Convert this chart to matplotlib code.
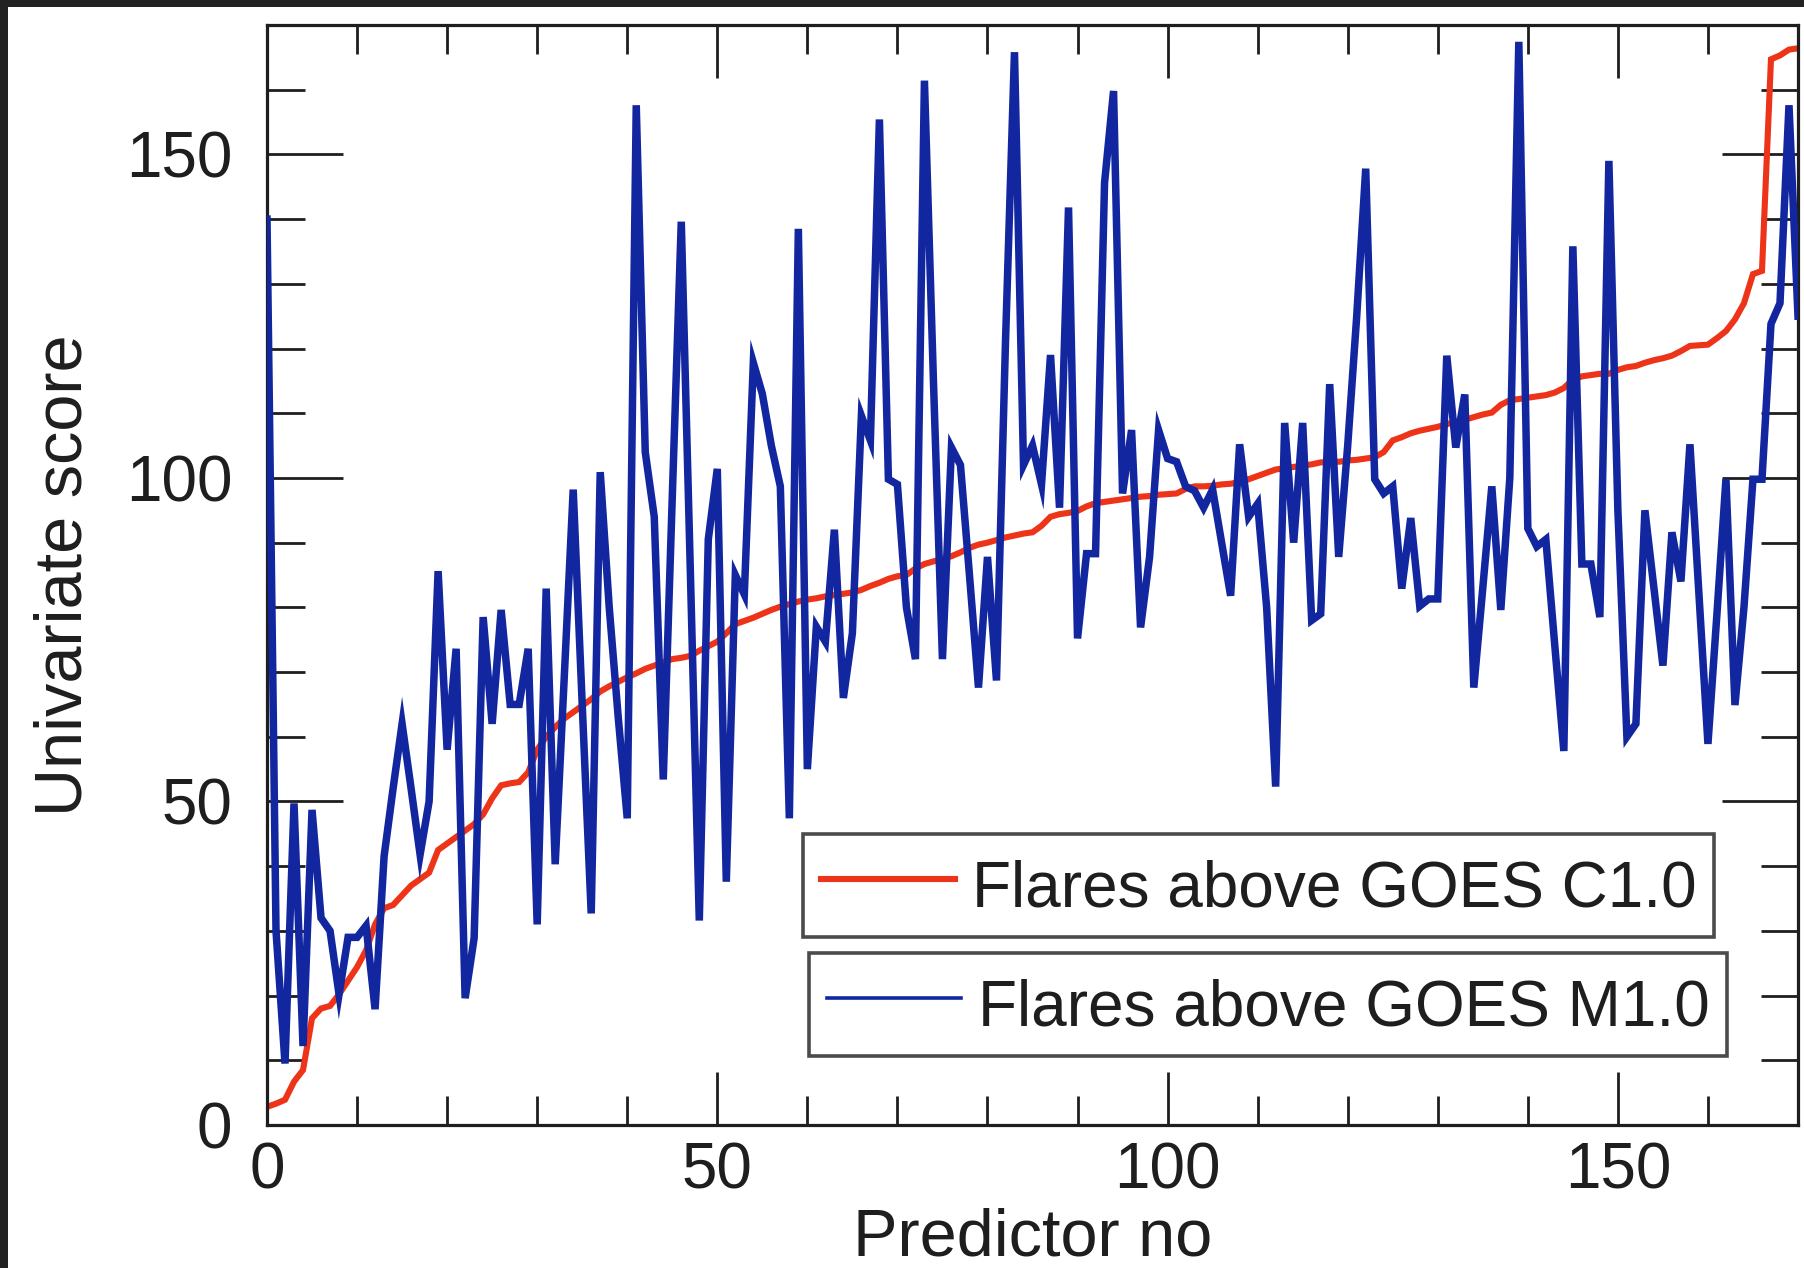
import matplotlib
matplotlib.use("Agg")
import matplotlib.pyplot as plt
from matplotlib.patches import Rectangle
from matplotlib.lines import Line2D
from matplotlib.ticker import MultipleLocator

plt.rcParams['font.family'] = ['Liberation Sans', 'DejaVu Sans']

# ---- data ----
predictor_no = list(range(171))

score_c1 = [
    2.8, 3.3, 3.9, 6.7, 8.5, 16.5, 18.0, 18.4, 20.2, 22.3,
    24.4, 27.0, 31.0, 33.5, 34.0, 35.5, 37.0, 38.0, 39.0, 42.5,
    43.5, 44.5, 45.5, 46.5, 48.0, 50.5, 52.5, 52.8, 53.0, 54.5,
    58.0, 60.0, 61.5, 62.8, 63.8, 64.8, 65.8, 67.0, 67.8, 68.5,
    69.2, 69.8, 70.5, 71.0, 71.5, 72.0, 72.2, 72.5, 73.3, 74.0,
    74.7, 76.0, 77.4, 77.9, 78.4, 79.0, 79.6, 80.1, 80.5, 80.9,
    81.2, 81.4, 81.7, 81.9, 82.1, 82.3, 82.7, 83.3, 83.8, 84.4,
    84.8, 85.0, 86.0, 86.7, 87.1, 87.5, 87.9, 88.5, 89.2, 89.7,
    90.0, 90.4, 90.8, 91.1, 91.4, 91.6, 92.6, 94.0, 94.4, 94.6,
    94.9, 95.6, 96.1, 96.3, 96.5, 96.7, 96.9, 97.1, 97.2, 97.4,
    97.5, 97.6, 98.3, 98.7, 98.7, 98.8, 99.0, 99.1, 99.4, 99.8,
    100.3, 100.8, 101.3, 101.5, 101.7, 101.9, 102.1, 102.4, 102.5, 102.5,
    102.7, 102.8, 103.0, 103.2, 104.0, 105.8, 106.3, 106.9, 107.3, 107.6,
    107.9, 108.3, 108.7, 109.0, 109.4, 109.8, 110.1, 111.3, 112.0, 112.2,
    112.4, 112.6, 112.8, 113.2, 113.9, 115.2, 115.7, 115.9, 116.1, 116.1,
    116.7, 117.1, 117.3, 117.8, 118.2, 118.5, 118.9, 119.6, 120.4, 120.5,
    120.6, 121.6, 122.7, 124.5, 127.0, 131.5, 132.0, 164.7, 165.3, 166.2,
    166.4,
]

score_m1 = [
    140.0, 30.0, 9.5, 49.7, 12.2, 48.7, 32.0, 30.0, 20.2, 29.0,
    29.0, 30.8, 17.9, 41.5, 52.0, 62.0, 52.0, 41.8, 50.0, 85.6,
    58.0, 73.6, 19.6, 28.9, 78.5, 62.0, 79.6, 65.0, 65.0, 73.6,
    31.0, 82.9, 40.3, 69.0, 98.2, 65.0, 32.7, 100.9, 80.0, 63.0,
    47.4, 157.6, 104.0, 94.0, 53.4, 97.0, 139.6, 86.0, 31.6, 90.5,
    101.4, 37.6, 85.0, 82.0, 117.8, 113.0, 105.0, 98.7, 47.4, 138.5,
    55.0, 77.0, 74.7, 92.0, 66.0, 76.0, 109.6, 105.8, 155.4, 99.8,
    99.0, 80.0, 72.0, 161.4, 115.0, 72.0, 104.7, 102.0, 85.0, 67.6,
    87.8, 68.7, 121.0, 165.8, 102.0, 105.0, 99.0, 119.0, 95.4, 141.8,
    75.2, 88.3, 88.3, 145.6, 159.8, 97.6, 107.4, 76.9, 87.8, 107.4,
    103.0, 102.5, 98.7, 98.0, 95.4, 98.2, 90.0, 81.8, 105.2, 94.0,
    96.0, 80.0, 52.3, 108.5, 90.0, 108.5, 78.0, 79.0, 114.5, 87.8,
    105.0, 125.0, 147.8, 99.8, 97.6, 98.7, 82.9, 93.8, 80.2, 81.3,
    81.3, 118.9, 104.7, 112.9, 67.6, 83.0, 98.7, 79.6, 100.0, 167.4,
    92.2, 89.4, 90.5, 74.0, 57.8, 135.8, 86.7, 86.7, 78.5, 149.0,
    95.0, 60.0, 62.0, 95.0, 83.0, 71.0, 91.6, 84.0, 105.2, 82.0,
    58.9, 79.0, 99.8, 64.9, 80.0, 99.8, 99.8, 123.8, 127.0, 157.6,
    125.0,
]

label_c1 = "Flares above GOES C1.0"
label_m1 = "Flares above GOES M1.0"
x_label = "Predictor no"
y_label = "Univariate score"

RED = "#ee3418"
BLUE = "#1226a0"
INK = "#1e1e1e"

W, H = 1804, 1268
fig = plt.figure(figsize=(W / 100, H / 100), dpi=100)
fig.patch.set_facecolor("#222222")
fig.patches.append(Rectangle((8 / W, 0), 1 - 8 / W, 1 - 7 / H,
                             transform=fig.transFigure, facecolor="white",
                             edgecolor="none", zorder=-10))

ax = fig.add_axes([267 / W, (H - 1125) / H, (1798 - 267) / W, (1125 - 25) / H])
ax.set_facecolor("white")

ax.plot(predictor_no, score_c1, color=RED, lw=4.4, solid_joinstyle="miter", zorder=2)
ax.plot(predictor_no, score_m1, color=BLUE, lw=5.4, solid_joinstyle="miter", zorder=3)

ax.set_xlim(0, 170)
ax.set_ylim(0, 170)
ax.xaxis.set_major_locator(MultipleLocator(50))
ax.xaxis.set_minor_locator(MultipleLocator(10))
ax.yaxis.set_major_locator(MultipleLocator(50))
ax.yaxis.set_minor_locator(MultipleLocator(10))

for s in ax.spines.values():
    s.set_linewidth(2.3)
    s.set_color(INK)

ax.tick_params(which="both", direction="in", top=True, right=True,
               color=INK, width=2.0, labelsize=46, labelcolor=INK)
ax.tick_params(axis="x", which="major", length=38, pad=12)
ax.tick_params(axis="x", which="minor", length=21)
ax.tick_params(axis="y", which="major", length=55, pad=25)
ax.tick_params(axis="y", which="minor", length=27)

ax.set_xlabel(x_label, fontsize=48, labelpad=4, color=INK)
ax.set_ylabel(y_label, fontsize=48, labelpad=22, color=INK)

h1 = Line2D([], [], color=RED, lw=4.4)
h2 = Line2D([], [], color=BLUE, lw=2.6)
common = dict(fontsize=46, frameon=True, fancybox=False, borderpad=0.28,
              handlelength=2.1, handleheight=1.22, handletextpad=0.26,
              borderaxespad=0.0, loc="upper left")
leg1 = ax.legend([h1], [label_c1], bbox_to_anchor=(803 / W, 1 - 834 / H),
                 bbox_transform=fig.transFigure, **common)
leg1.get_frame().set_edgecolor(INK)
leg1.get_frame().set_linewidth(2.6)
leg1.get_frame().set_facecolor("white")
for t in leg1.get_texts():
    t.set_color(INK)
ax.add_artist(leg1)
leg2 = ax.legend([h2], [label_m1], bbox_to_anchor=(809 / W, 1 - 953 / H),
                 bbox_transform=fig.transFigure, **common)
leg2.get_frame().set_edgecolor(INK)
leg2.get_frame().set_linewidth(2.6)
leg2.get_frame().set_facecolor("white")
for t in leg2.get_texts():
    t.set_color(INK)

fig.savefig("out.png", dpi=100, facecolor=fig.get_facecolor())
